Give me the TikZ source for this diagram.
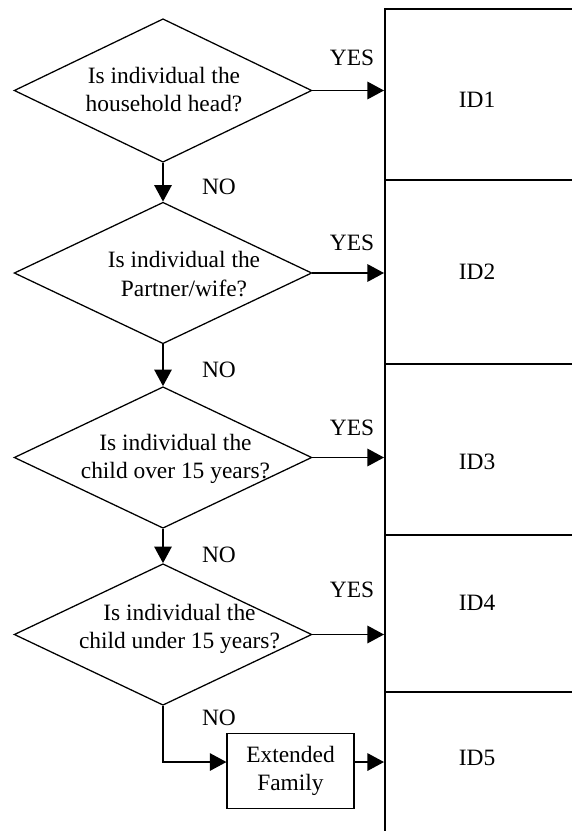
\documentclass[tikz,border=0pt]{standalone}
\usepackage{fontspec}
\setmainfont{Liberation Serif}
\usetikzlibrary{arrows.meta, shapes.geometric, positioning}

\begin{document}
\begin{tikzpicture}[x=0.018cm, y=-0.018cm, >={Triangle[length=8.5pt, width=9pt]},
    every node/.style={font=\fontsize{12}{14.5}\selectfont},
    decision/.style={diamond, draw, line width=0.65pt, inner sep=0pt, minimum width=152.5pt, minimum height=72.5pt},
    question/.style={align=center, inner sep=0pt},
    cell/.style={rectangle, draw, line width=0.8pt, inner sep=0pt, anchor=north west, minimum width=98.5pt},
    famblock/.style={rectangle, draw, line width=0.65pt, align=center, inner sep=0pt, minimum width=65pt, minimum height=38.5pt},
    flow/.style={->, line width=0.65pt}]
    \useasboundingbox (0,0) rectangle (572,831);

    % --- ID column ---
    \node[cell, minimum height=87.6pt] (cell1) at (384,8) {};
    \node[cell, minimum height=94.2pt] (cell2) at (384,179) {};
    \node[cell, minimum height=87.6pt] (cell3) at (384,363) {};
    \node[cell, minimum height=80.4pt] (cell4) at (384,534) {};
    \node[cell, minimum height=79pt] (cell5) at (384,691) {};
    \node (id1) at (477,100) {ID1};
    \node (id2) at (477,272) {ID2};
    \node (id3) at (477,462) {ID3};
    \node (id4) at (477,603) {ID4};
    \node (id5) at (477,758) {ID5};

    % --- Questions ---
    \node[decision, minimum height=73.5pt] (q1) at (163,90.5) {};
    \node[question] (q1text) at (164,89.5) {Is individual the\\household head?};
    \node[decision] (q2) at (163,273) {};
    \node[question] (q2text) at (184,274) {Is individual the\\Partner/wife?};
    \node[decision] (q3) at (163,457.5) {};
    \node[question] (q3text) at (175.5,459) {Is individual the\\child over 15 years?};
    \node[decision] (q4) at (163,634.5) {};
    \node[question] (q4text) at (179.5,629) {Is individual the\\child under 15 years?};

    % --- Extended family ---
    \node[famblock] (fam) at (290.5,771) {Extended\\Family};

    % --- YES branches ---
    \draw[flow] (q1.east) -- (q1.east -| cell1.west);
    \draw[flow] (q2.east) -- (q2.east -| cell2.west);
    \draw[flow] (q3.east) -- (q3.east -| cell3.west);
    \draw[flow] (q4.east) -- (q4.east -| cell4.west);
    \draw[flow] ([yshift=4.6pt]fam.east) -- ([yshift=4.6pt]fam.east -| cell5.west);
    \node (yes1) at (352,58) {YES};
    \node (yes2) at (352,243) {YES};
    \node (yes3) at (352,428) {YES};
    \node (yes4) at (352,590) {YES};

    % --- NO branches ---
    \draw[flow] (q1.south) -- (q2.north);
    \draw[flow] (q2.south) -- (q3.north);
    \draw[flow] (q3.south) -- (q4.north);
    \draw[flow] (q4.south) |- ([yshift=4.6pt]fam.west);
    \node (no1) at (219,187) {NO};
    \node (no2) at (219,370) {NO};
    \node (no3) at (219,555) {NO};
    \node (no4) at (219,718) {NO};
\end{tikzpicture}
\end{document}
